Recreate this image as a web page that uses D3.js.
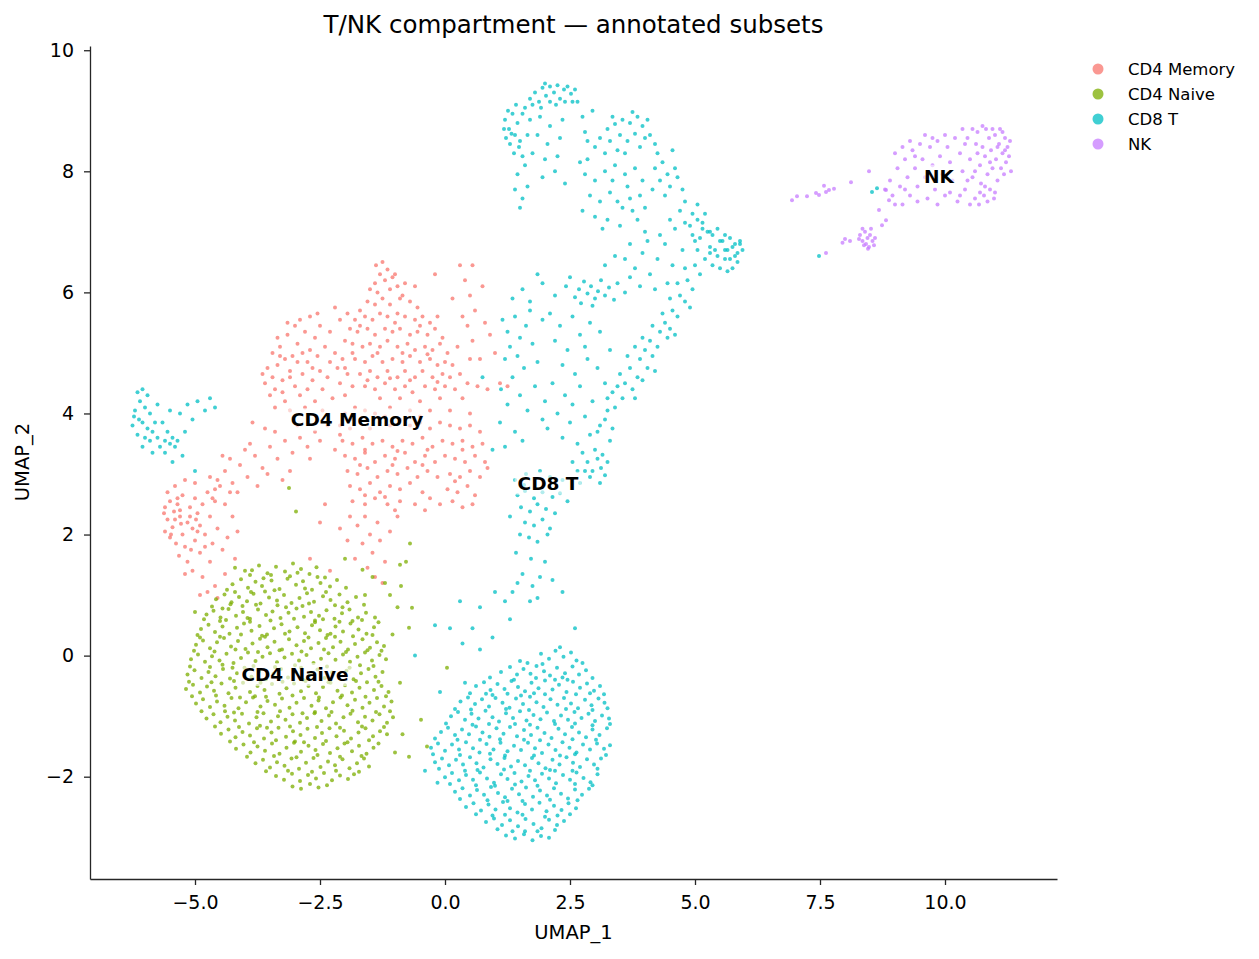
<html>
<head>
  <title>T/NK UMAP</title>
  <script src="https://cdn.jsdelivr.net/npm/d3@7"></script>
  <style>
    body { margin: 0; background: #fff; }
    text { font-family: "DejaVu Sans", sans-serif; }
  </style>
</head>
<body>
<script>
// categories and colours
const categories = ["CD4 Memory", "CD4 Naive", "CD8 T", "NK"];
const colors = ["#F8766D", "#7CAE00", "#00BFC4", "#C77CFF"];

// UMAP coordinates, one list per subset
const cd4MemoryPts = [
  // lower-left lump
  [-5.6,2.45],[-5.5,2.55],[-5.42,2.38],[-5.55,2.25],[-5.35,2.5],[-5.25,2.65],[-5.3,2.3],[-5.45,2.12],[-5.6,2.05],[-5.5,1.95],[-5.38,1.85],[-5.25,2.0],[-5.15,2.2],[-5.1,2.45],[-5.0,2.6],[-4.95,2.35],[-5.05,2.1],[-5.2,1.8],[-5.32,1.65],[-5.15,1.55],[-5.0,1.9],[-4.9,2.15],[-4.85,2.5],[-4.75,2.7],[-4.7,2.3],[-4.8,2.0],[-4.65,1.85],[-4.9,1.7],[-5.05,1.4],[-4.85,1.3],[-4.7,1.55],[-4.6,2.55],[-4.55,2.1],[-4.5,2.8],[-4.4,2.5],[-4.45,1.75],[-4.6,1.15],[-4.75,1.05],[-4.9,1.0],[-4.55,0.95],[-5.55,2.7],[-5.4,2.8],[-5.2,2.9],[-5.0,2.85],[-4.7,2.95],[-5.62,2.35],[-5.48,2.0],[-5.28,2.18],[-5.08,1.75],[-4.98,2.25],[-5.35,2.6],[-4.35,1.95],[-4.25,2.3],[-4.2,1.6],[-4.4,1.35],[-5.2,1.35],[-4.65,2.6],[-4.8,1.8],[-4.3,2.7],[-4.15,2.05],
  [-5.3,2.4],[-5.1,2.3],[-4.95,2.05],[-5.4,2.25],
  // arm
  [-4.55,2.9],[-4.4,3.05],[-4.25,2.85],[-4.1,3.15],[-3.95,2.95],[-4.3,3.25],[-3.8,3.3],[-3.65,3.1],[-3.5,3.45],[-3.35,3.25],[-3.2,3.55],[-3.05,3.35],[-2.9,3.6],[-2.75,3.45],[-2.6,3.7],[-3.75,2.8],[-3.55,3.0],[-3.9,3.5],[-4.15,2.7],[-3.4,3.7],[-2.95,3.8],[-2.5,3.55],[-2.35,3.8],[-3.1,3.05],[-4.0,3.4],[-3.6,3.75],[-2.7,3.25],[-3.25,2.9],[-2.2,3.4],[-4.45,3.3],[-2.1,3.65],[-3.85,3.85],[-4.6,2.75],
  // upper-left lobe
  [-3.45,4.6],[-3.35,4.8],[-3.4,4.4],[-3.25,4.55],[-3.2,4.9],[-3.3,5.1],[-3.15,5.3],[-3.0,5.45],[-2.9,5.55],[-2.8,5.35],[-2.95,5.15],[-3.05,4.95],[-3.1,4.7],[-3.0,4.45],[-2.85,4.65],[-2.75,4.85],[-2.7,5.05],[-2.6,5.25],[-2.55,4.95],[-2.65,4.55],[-2.5,4.7],[-2.45,4.4],[-2.35,4.6],[-2.3,4.85],[-2.4,5.1],[-2.2,5.0],[-2.15,4.75],[-2.1,4.5],[-2.0,4.3],[-1.95,4.65],[-2.05,4.9],[-2.25,4.25],[-2.6,4.2],[-2.9,4.3],[-3.2,4.2],[-3.5,4.3],[-3.4,4.1],[-3.1,4.05],[-2.8,4.1],[-2.45,4.05],[-3.55,4.75],[-3.6,4.5],[-3.35,5.25],[-3.15,5.5],[-2.7,5.6],[-2.5,5.45],[-2.3,5.35],[-2.1,5.55],[-3.45,5.0],[-2.75,4.4],[-3.25,4.35],[-2.95,4.85],[-2.55,5.65],[-2.0,5.2],[-3.65,4.65],[-1.85,5.0],[-1.9,5.4],[-2.2,5.75],
  [-2.65,4.75],[-3.1,4.6],[-2.85,5.0],[-3.3,4.95],
  // peak
  [-1.38,6.45],[-1.25,6.5],[-1.15,6.38],[-1.3,6.3],[-1.2,6.2],[-1.4,6.15],[-1.05,6.25],[-1.5,6.05],[-1.35,6.0],[-1.1,6.05],[-0.95,6.1],[-1.25,5.9],[-0.85,5.95],[-1.55,5.85],[-1.4,5.8],[-1.1,5.8],[-0.7,5.85],[-1.7,5.7],[-0.55,5.75],[-1.0,6.3],[-0.8,6.15],
  // main body upper
  [-1.8,5.55],[-1.6,5.6],[-1.45,5.55],[-1.3,5.65],[-1.15,5.6],[-0.95,5.65],[-0.8,5.6],[-0.6,5.55],[-0.45,5.6],[-0.3,5.5],[-1.75,5.35],[-1.55,5.4],[-1.4,5.3],[-1.2,5.4],[-1.05,5.35],[-0.9,5.4],[-0.7,5.3],[-0.55,5.35],[-0.35,5.3],[-0.2,5.4],[-0.05,5.25],[-1.85,5.15],[-1.65,5.1],[-1.5,5.15],[-1.3,5.1],[-1.15,5.2],[-0.95,5.1],[-0.75,5.15],[-0.6,5.05],[-0.4,5.1],[-0.25,5.05],[-0.1,5.15],[0.05,5.0],[-1.8,4.9],[-1.6,4.85],[-1.45,4.95],[-1.25,4.85],[-1.05,4.9],[-0.85,4.85],[-0.7,4.95],[-0.5,4.85],[-0.3,4.9],[-0.15,4.8],[0.0,4.85],[0.15,4.8],[-1.7,4.65],[-1.5,4.7],[-1.35,4.6],[-1.15,4.7],[-0.95,4.6],[-0.8,4.7],[-0.6,4.6],[-0.45,4.7],[-0.25,4.6],[-0.05,4.65],[0.1,4.6],[0.3,4.65],[-1.85,4.45],[-1.6,4.45],[-1.4,4.4],[-1.2,4.5],[-1.0,4.4],[-0.8,4.45],[-0.65,4.35],[-0.4,4.45],[-0.2,4.4],[0.0,4.45],[0.2,4.4],[0.45,4.5],[0.65,4.45],[-0.9,4.25],[-0.5,4.2],[-0.1,4.25],[0.35,4.25],[-1.3,4.25],[0.85,4.4],[-1.95,5.65],[-2.0,4.75],[-0.15,5.6],[0.25,5.1],[-0.9,5.9],
  [-1.7,5.45],[-1.0,5.5],[-0.5,5.45],[-1.35,5.0],[-0.85,5.0],[-0.35,4.98],[-1.55,4.55],[-1.1,4.58],[-0.7,4.55],[-0.15,4.52],
  // right sparse
  [0.4,6.2],[0.5,5.95],[0.75,6.1],[0.6,5.7],[0.45,5.45],[0.8,5.5],[0.55,5.2],[0.9,5.3],[0.35,5.6],[0.7,4.9],[1.0,5.0],[0.5,4.9],[0.15,5.9],[0.3,6.45],[1.1,4.5],[1.25,4.45],[-0.6,6.1],[-0.2,6.3],[0.55,6.45],
  // main body lower
  [-2.0,4.0],[-1.8,4.1],[-1.6,4.05],[-1.4,4.0],[-1.1,4.1],[-0.7,4.05],[-0.3,4.05],[0.1,4.05],[0.5,4.0],
  [-2.1,3.8],[-1.9,3.75],[-1.7,3.85],[-1.5,3.75],[-1.3,3.85],[-1.1,3.8],[-0.9,3.9],[-0.7,3.8],[-0.5,3.85],[-0.3,3.75],[-0.1,3.85],[0.1,3.8],[0.3,3.75],[0.5,3.8],[0.7,3.7],
  [-2.05,3.55],[-1.85,3.5],[-1.65,3.6],[-1.45,3.5],[-1.25,3.55],[-1.05,3.45],[-0.85,3.55],[-0.65,3.5],[-0.45,3.6],[-0.25,3.45],[-0.05,3.55],[0.15,3.5],[0.35,3.55],[0.55,3.45],[0.75,3.5],
  [-2.0,3.3],[-1.8,3.25],[-1.6,3.35],[-1.4,3.2],[-1.2,3.3],[-1.0,3.25],[-0.8,3.35],[-0.6,3.2],[-0.4,3.3],[-0.2,3.2],[0.0,3.3],[0.2,3.25],[0.4,3.2],[0.6,3.3],[0.8,3.2],
  [-1.95,3.05],[-1.75,3.0],[-1.55,3.1],[-1.35,2.95],[-1.15,3.05],[-0.95,3.0],[-0.75,3.1],[-0.55,2.95],[-0.35,3.05],[-0.15,2.95],[0.1,3.0],[0.3,2.95],[0.5,3.05],[0.7,2.95],[0.85,3.1],
  [-1.9,2.8],[-1.7,2.75],[-1.5,2.85],[-1.3,2.7],[-1.1,2.8],[-0.9,2.75],[-0.7,2.85],[-0.45,2.7],[0.05,2.75],[0.25,2.7],[0.45,2.8],[0.6,2.65],
  [-1.85,2.55],[-1.6,2.5],[-1.4,2.6],[-1.15,2.5],[-0.9,2.55],[-0.6,2.5],[-0.1,2.5],[0.15,2.55],[0.35,2.45],[0.55,2.5],[-0.3,2.6],[-1.0,2.4],[-0.4,2.4],
  [-1.9,3.9],[-1.2,3.95],[-0.5,3.95],[-1.6,3.4],[-0.95,3.38],[-0.35,3.4],[-1.7,3.15],[-1.05,3.15],[-0.45,3.15],[-1.6,2.65],[-1.2,2.62],[0.35,3.4],[0.2,2.88],
  // bottom tail
  [-1.9,2.3],[-1.75,2.15],[-1.6,2.3],[-1.5,2.0],[-1.35,2.2],[-1.65,1.85],[-1.45,1.7],[-1.3,1.9],[-1.2,1.55],[-1.55,1.45],[-1.8,1.6],[-1.1,2.05],[-1.4,1.3],[-1.95,1.9],[-2.1,2.1],[-2.3,1.4],[-1.25,1.2],[-0.95,2.3],[-2.5,2.2],[-2.7,1.6],[-2.4,2.5]
];

const cd4NaivePts = [
  [-3.86,1.41],[-3.72,1.49],[-3.55,1.36],[-3.38,1.47],[-3.2,1.39],[-3.04,1.52],[-2.88,1.43],[-2.71,1.35],[-2.57,1.46],[-3.63,1.28],
  [-3.48,1.33],[-2.95,1.37],[-2.4,1.29],[-4.0,1.4],
  [-4.25,1.18],[-4.08,1.26],[-3.94,1.12],[-3.79,1.22],[-3.66,1.15],[-3.47,1.24],[-3.31,1.1],[-3.15,1.27],[-2.98,1.17],[-2.84,1.23],[-2.66,1.09],[-2.49,1.2],[-2.3,1.14],[-2.16,1.25],[-3.9,1.33],[-3.1,1.31],[-2.55,1.3],
  [-4.36,1.09],[-3.88,1.05],[-3.41,1.08],[-2.8,1.11],[-2.38,1.05],[-1.98,1.12],
  [-4.58,0.93],[-4.41,1.01],[-4.27,0.88],[-4.12,0.97],[-3.96,0.9],[-3.83,1.02],[-3.69,0.86],[-3.52,0.96],[-3.36,0.91],[-3.22,1.0],[-3.07,0.87],[-2.91,0.95],[-2.76,1.03],[-2.62,0.89],[-2.44,0.98],[-2.29,0.92],[-2.11,1.01],[-1.95,0.88],[-1.78,0.97],[-3.6,1.06],[-2.85,0.82],[-4.2,1.05],[-2.05,0.8],
  [-4.66,0.81],[-4.29,0.85],[-3.78,0.84],[-3.18,0.8],[-2.72,0.86],[-2.2,0.83],[-1.62,0.84],[-4.45,0.78],
  [-4.77,0.68],[-4.63,0.74],[-4.49,0.63],[-4.33,0.77],[-4.18,0.66],[-4.04,0.72],[-3.9,0.61],[-3.74,0.76],[-3.58,0.67],[-3.45,0.73],[-3.29,0.62],[-3.13,0.71],[-2.97,0.78],[-2.82,0.64],[-2.68,0.72],[-2.52,0.66],[-2.37,0.75],[-2.21,0.61],[-2.06,0.7],[-1.91,0.76],[-1.74,0.63],[-1.58,0.71],[-4.05,0.82],[-3.35,0.83],[-2.6,0.58],[-1.85,0.57],
  [-4.82,0.6],[-4.38,0.59],[-3.95,0.62],[-3.49,0.58],[-3.02,0.61],[-2.44,0.6],[-2.11,0.56],[-1.66,0.59],[-1.4,0.63],
  [-4.88,0.44],[-4.73,0.51],[-4.6,0.39],[-4.45,0.48],[-4.31,0.36],[-4.16,0.46],[-4.02,0.53],[-3.87,0.41],[-3.71,0.49],[-3.56,0.35],[-3.42,0.45],[-3.27,0.52],[-3.11,0.4],[-2.95,0.47],[-2.8,0.37],[-2.66,0.5],[-2.5,0.42],[-2.35,0.34],[-2.19,0.48],[-2.04,0.4],[-1.89,0.53],[-1.73,0.43],[-1.57,0.36],[-1.42,0.47],[-1.33,0.55],[-3.9,0.56],[-2.6,0.55],[-4.5,0.57],
  [-4.95,0.34],[-4.5,0.31],[-4.08,0.35],[-3.66,0.33],[-3.2,0.36],[-2.73,0.3],[-2.29,0.36],[-1.84,0.32],[-1.45,0.34],
  [-4.98,0.18],[-4.84,0.25],[-4.7,0.12],[-4.56,0.22],[-4.42,0.29],[-4.28,0.15],[-4.14,0.24],[-3.99,0.11],[-3.85,0.2],[-3.7,0.28],[-3.55,0.14],[-3.41,0.23],[-3.26,0.1],[-3.12,0.27],[-2.97,0.17],[-2.82,0.24],[-2.68,0.12],[-2.53,0.21],[-2.38,0.29],[-2.24,0.14],[-2.09,0.23],[-1.94,0.1],[-1.8,0.19],[-1.65,0.27],[-1.5,0.13],[-1.36,0.22],[-1.22,0.16],[-3.6,0.31],[-2.2,0.31],[-4.9,0.3],
  [-5.02,0.08],[-4.61,0.07],[-4.19,0.1],[-3.74,0.06],[-3.31,0.09],[-2.87,0.07],[-2.42,0.1],[-1.98,0.06],[-1.55,0.09],[-1.27,0.08],
  [-5.08,-0.06],[-4.94,0.02],[-4.8,-0.1],[-4.66,-0.01],[-4.51,-0.08],[-4.37,0.03],[-4.23,-0.12],[-4.08,-0.04],[-3.94,0.05],[-3.79,-0.09],[-3.65,-0.02],[-3.5,0.04],[-3.36,-0.11],[-3.21,-0.03],[-3.06,0.03],[-2.92,-0.08],[-2.77,0.01],[-2.63,-0.12],[-2.48,-0.05],[-2.33,0.04],[-2.19,-0.07],[-2.04,0.02],[-1.9,-0.1],[-1.75,-0.02],[-1.6,0.05],[-1.46,-0.08],[-1.31,0.01],[-1.18,-0.06],[-4.45,-0.15],[-3.0,-0.16],[-1.7,-0.16],
  [-5.1,-0.18],[-4.7,-0.19],[-4.25,-0.2],[-3.83,-0.17],[-3.4,-0.19],[-2.88,-0.2],[-2.36,-0.18],[-1.91,-0.2],[-1.43,-0.17],
  [-5.15,-0.31],[-5.01,-0.24],[-4.87,-0.37],[-4.73,-0.27],[-4.59,-0.34],[-4.44,-0.22],[-4.3,-0.38],[-4.16,-0.29],[-4.01,-0.2],[-3.87,-0.35],[-3.72,-0.26],[-3.58,-0.39],[-3.43,-0.3],[-3.28,-0.22],[-3.14,-0.36],[-2.99,-0.27],[-2.84,-0.4],[-2.7,-0.31],[-2.55,-0.23],[-2.41,-0.37],[-2.26,-0.28],[-2.12,-0.34],[-1.97,-0.25],[-1.83,-0.39],[-1.68,-0.29],[-1.53,-0.22],[-1.39,-0.35],[-1.25,-0.27],
  [-5.12,-0.43],[-4.67,-0.44],[-4.22,-0.42],[-3.69,-0.45],[-3.25,-0.43],[-2.79,-0.42],[-2.33,-0.44],[-1.78,-0.42],[-1.33,-0.43],
  [-5.18,-0.55],[-5.04,-0.48],[-4.9,-0.61],[-4.76,-0.51],[-4.62,-0.58],[-4.47,-0.46],[-4.33,-0.62],[-4.19,-0.53],[-4.04,-0.45],[-3.9,-0.6],[-3.75,-0.5],[-3.61,-0.57],[-3.46,-0.47],[-3.31,-0.63],[-3.17,-0.54],[-3.02,-0.46],[-2.88,-0.59],[-2.73,-0.5],[-2.58,-0.62],[-2.44,-0.52],[-2.29,-0.45],[-2.15,-0.58],[-2.0,-0.49],[-1.86,-0.61],[-1.71,-0.53],[-1.56,-0.44],[-1.42,-0.57],[-1.27,-0.5],[-1.13,-0.6],[-3.8,-0.67],
  [-5.06,-0.67],[-4.58,-0.66],[-4.1,-0.69],[-3.58,-0.68],[-3.05,-0.66],[-2.52,-0.69],[-2.06,-0.66],[-1.59,-0.68],[-1.18,-0.67],
  [-4.98,-0.79],[-4.84,-0.72],[-4.7,-0.85],[-4.56,-0.76],[-4.41,-0.83],[-4.27,-0.7],[-4.13,-0.87],[-3.98,-0.77],[-3.84,-0.69],[-3.69,-0.84],[-3.55,-0.75],[-3.4,-0.81],[-3.26,-0.71],[-3.11,-0.86],[-2.97,-0.78],[-2.82,-0.7],[-2.67,-0.83],[-2.53,-0.74],[-2.38,-0.87],[-2.24,-0.77],[-2.09,-0.69],[-1.95,-0.82],[-1.8,-0.73],[-1.65,-0.86],[-1.51,-0.78],[-1.36,-0.7],[-1.22,-0.84],[-1.07,-0.76],[-4.4,-0.92],[-2.6,-0.93],
  [-4.87,-0.92],[-4.22,-0.94],[-3.75,-0.93],[-3.3,-0.92],[-2.85,-0.95],[-2.27,-0.93],[-1.85,-0.91],[-1.38,-0.93],[-1.1,-0.92],
  [-4.77,-1.04],[-4.63,-0.97],[-4.49,-1.1],[-4.35,-1.01],[-4.2,-1.07],[-4.06,-0.96],[-3.92,-1.12],[-3.77,-1.02],[-3.63,-0.95],[-3.48,-1.09],[-3.34,-1.0],[-3.19,-1.06],[-3.05,-0.97],[-2.9,-1.11],[-2.76,-1.03],[-2.61,-0.95],[-2.47,-1.08],[-2.32,-0.99],[-2.18,-1.12],[-2.03,-1.02],[-1.89,-0.96],[-1.74,-1.1],[-1.6,-1.01],[-1.45,-1.07],[-1.31,-0.97],[-1.16,-1.11],[-1.04,-1.02],[-3.7,-1.16],
  [-4.6,-1.17],[-4.12,-1.18],[-3.56,-1.19],[-3.1,-1.17],[-2.56,-1.18],[-2.1,-1.19],[-1.66,-1.17],[-1.22,-1.18],
  [-4.48,-1.29],[-4.33,-1.22],[-4.19,-1.35],[-4.05,-1.26],[-3.9,-1.32],[-3.76,-1.2],[-3.62,-1.37],[-3.47,-1.27],[-3.33,-1.19],[-3.18,-1.34],[-3.04,-1.25],[-2.89,-1.31],[-2.75,-1.21],[-2.6,-1.36],[-2.46,-1.28],[-2.31,-1.2],[-2.17,-1.33],[-2.02,-1.24],[-1.88,-1.37],[-1.73,-1.27],[-1.59,-1.2],[-1.44,-1.33],[-1.3,-1.25],[-1.16,-1.3],[-3.0,-1.42],
  [-4.3,-1.42],[-3.82,-1.43],[-3.38,-1.4],[-2.82,-1.43],[-2.38,-1.41],[-1.95,-1.43],[-1.52,-1.4],
  [-4.18,-1.54],[-4.03,-1.47],[-3.89,-1.6],[-3.75,-1.5],[-3.6,-1.57],[-3.46,-1.45],[-3.31,-1.62],[-3.17,-1.52],[-3.02,-1.44],[-2.88,-1.59],[-2.73,-1.49],[-2.59,-1.56],[-2.44,-1.46],[-2.3,-1.61],[-2.15,-1.53],[-2.01,-1.45],[-1.86,-1.58],[-1.72,-1.49],[-1.57,-1.62],[-1.43,-1.52],[-1.33,-1.45],
  [-3.96,-1.67],[-3.42,-1.66],[-2.97,-1.68],[-2.55,-1.64],[-2.1,-1.67],[-1.67,-1.66],
  [-3.79,-1.78],[-3.64,-1.72],[-3.5,-1.85],[-3.36,-1.76],[-3.21,-1.82],[-3.07,-1.7],[-2.92,-1.87],[-2.78,-1.77],[-2.63,-1.69],[-2.49,-1.84],[-2.34,-1.75],[-2.2,-1.81],[-2.05,-1.71],[-1.91,-1.86],[-1.76,-1.78],[-1.62,-1.7],[-1.52,-1.83],
  [-3.58,-1.91],[-3.14,-1.9],[-2.66,-1.92],[-2.18,-1.9],[-1.72,-1.92],
  [-3.38,-1.99],[-3.22,-2.05],[-3.06,-1.95],[-2.9,-2.07],[-2.74,-1.97],[-2.58,-2.03],[-2.42,-1.94],[-2.26,-2.06],[-2.1,-1.98],[-1.94,-2.04],[-1.82,-1.96],
  [-3.05,-2.16],[-2.88,-2.2],[-2.7,-2.12],[-2.53,-2.18],[-2.36,-2.14],
  [-1.05,0.35],[-0.95,0.8],[-0.88,1.15],[-0.78,1.55],[-0.7,1.85],[-0.9,1.5],[-1.1,1.0],[-0.66,0.79],[-0.72,0.46],[0.04,-0.2],[-0.36,-1.5],[-0.72,-1.67],[-0.48,-1.06],[-0.9,-0.45],[-0.85,-1.3],[-1.0,-1.6],[-2.0,1.6],[-1.65,1.42],[-1.45,1.3],[-1.2,1.2],[-3.12,2.77],[-2.98,2.38],[-5.0,0.72],[-4.2,1.45],[-1.6,1.0]
];

const cd8Pts = [
  // bottom blob
  [1.92,0.03],[2.08,-0.05],[2.21,0.08],[2.37,-0.02],[2.52,0.05],[2.63,-0.08],[2.3,0.14],
  [1.5,-0.09],[1.95,-0.14],[2.75,-0.12],
  [1.12,-0.27],[1.3,-0.19],[1.44,-0.31],[1.57,-0.22],[1.71,-0.3],[1.83,-0.17],[1.98,-0.26],[2.1,-0.33],[2.24,-0.2],[2.4,-0.29],[2.55,-0.18],[2.68,-0.31],[2.82,-0.24],[1.65,-0.12],[2.45,-0.4],
  [0.9,-0.36],[1.38,-0.4],[1.82,-0.37],[2.2,-0.4],[2.95,-0.37],
  [0.62,-0.5],[0.78,-0.44],[0.91,-0.57],[1.05,-0.47],[1.19,-0.55],[1.33,-0.42],[1.46,-0.52],[1.6,-0.59],[1.73,-0.45],[1.87,-0.54],[2.0,-0.41],[2.15,-0.56],[2.28,-0.48],[2.43,-0.6],[2.56,-0.43],[2.7,-0.53],[2.84,-0.46],[2.98,-0.58],[3.1,-0.5],[1.25,-0.63],[2.35,-0.36],
  [0.5,-0.62],[0.82,-0.63],[1.52,-0.66],[1.78,-0.62],[2.62,-0.64],[2.9,-0.62],[3.18,-0.64],
  [0.31,-0.76],[0.46,-0.69],[0.6,-0.8],[0.74,-0.72],[0.88,-0.84],[1.01,-0.7],[1.15,-0.78],[1.29,-0.86],[1.42,-0.71],[1.56,-0.8],[1.7,-0.68],[1.83,-0.77],[1.97,-0.85],[2.11,-0.72],[2.25,-0.81],[2.38,-0.7],[2.52,-0.79],[2.66,-0.87],[2.8,-0.73],[2.93,-0.82],[3.07,-0.71],[3.19,-0.78],[0.95,-0.65],[2.0,-0.64],
  [0.2,-0.88],[0.52,-0.89],[1.22,-0.88],[1.68,-0.9],[2.42,-0.88],[2.95,-0.9],[3.25,-0.87],
  [0.12,-1.0],[0.26,-0.93],[0.4,-1.06],[0.53,-0.96],[0.67,-1.04],[0.81,-0.91],[0.95,-1.02],[1.08,-1.09],[1.22,-0.95],[1.36,-1.03],[1.5,-0.92],[1.63,-1.07],[1.77,-0.98],[1.91,-1.05],[2.04,-0.94],[2.18,-1.08],[2.32,-0.99],[2.46,-1.06],[2.59,-0.93],[2.73,-1.03],[2.87,-0.96],[3.0,-1.08],[3.14,-0.99],[3.28,-1.04],[1.4,-1.13],[2.6,-1.12],
  [0.02,-1.12],[0.55,-1.14],[0.88,-1.13],[1.7,-1.14],[2.2,-1.13],[2.95,-1.15],[3.3,-1.13],
  [-0.08,-1.26],[0.06,-1.19],[0.2,-1.31],[0.34,-1.22],[0.48,-1.3],[0.62,-1.17],[0.75,-1.27],[0.89,-1.34],[1.03,-1.2],[1.17,-1.29],[1.3,-1.18],[1.44,-1.33],[1.58,-1.23],[1.72,-1.31],[1.85,-1.19],[1.99,-1.28],[2.13,-1.36],[2.27,-1.21],[2.4,-1.3],[2.54,-1.18],[2.68,-1.27],[2.82,-1.35],[2.95,-1.22],[3.09,-1.31],[3.24,-1.2],[0.7,-1.39],[1.9,-1.4],
  [-0.2,-1.37],[0.25,-1.39],[1.1,-1.38],[1.58,-1.39],[2.55,-1.38],[3.02,-1.39],
  [-0.28,-1.52],[-0.14,-1.45],[0.0,-1.57],[0.14,-1.47],[0.28,-1.55],[0.42,-1.43],[0.56,-1.53],[0.69,-1.6],[0.83,-1.46],[0.97,-1.55],[1.11,-1.44],[1.25,-1.58],[1.38,-1.49],[1.52,-1.56],[1.66,-1.44],[1.8,-1.53],[1.94,-1.61],[2.07,-1.47],[2.21,-1.56],[2.35,-1.43],[2.49,-1.52],[2.63,-1.6],[2.76,-1.47],[2.9,-1.55],[3.04,-1.45],[3.18,-1.54],[3.3,-1.48],[1.2,-1.65],[2.3,-1.65],
  [-0.24,-1.63],[0.3,-1.64],[0.9,-1.62],[1.78,-1.65],[2.6,-1.63],[3.22,-1.64],
  [-0.2,-1.76],[-0.06,-1.7],[0.08,-1.81],[0.22,-1.72],[0.36,-1.8],[0.5,-1.68],[0.63,-1.78],[0.77,-1.85],[0.91,-1.71],[1.05,-1.79],[1.19,-1.69],[1.32,-1.83],[1.46,-1.74],[1.6,-1.81],[1.74,-1.69],[1.87,-1.78],[2.01,-1.86],[2.15,-1.72],[2.29,-1.8],[2.43,-1.68],[2.56,-1.77],[2.7,-1.84],[2.84,-1.71],[2.98,-1.8],[3.12,-1.7],[0.4,-1.9],[1.7,-1.9],
  [-0.12,-1.87],[0.65,-1.89],[1.18,-1.88],[2.1,-1.89],[2.55,-1.9],[3.05,-1.87],
  [0.0,-2.01],[0.14,-1.94],[0.28,-2.06],[0.42,-1.97],[0.56,-2.05],[0.7,-1.93],[0.84,-2.03],[0.98,-2.1],[1.12,-1.96],[1.25,-2.04],[1.39,-1.94],[1.53,-2.08],[1.67,-1.99],[1.8,-2.06],[1.94,-1.95],[2.08,-2.03],[2.22,-2.11],[2.36,-1.97],[2.5,-2.05],[2.63,-1.93],[2.77,-2.02],[2.91,-2.09],[3.05,-1.96],[1.0,-2.15],[2.2,-1.9],
  [0.1,-2.12],[0.62,-2.14],[1.4,-2.13],[1.85,-2.15],[2.6,-2.12],[2.95,-2.14],
  [0.2,-2.25],[0.35,-2.19],[0.5,-2.31],[0.64,-2.22],[0.78,-2.3],[0.92,-2.17],[1.06,-2.27],[1.2,-2.34],[1.34,-2.2],[1.48,-2.29],[1.62,-2.18],[1.76,-2.33],[1.9,-2.23],[2.04,-2.31],[2.18,-2.19],[2.32,-2.28],[2.46,-2.36],[2.6,-2.21],[2.74,-2.3],[2.88,-2.2],[1.55,-2.4],
  [0.3,-2.37],[0.85,-2.39],[1.25,-2.4],[2.1,-2.38],[2.65,-2.39],
  [0.42,-2.5],[0.57,-2.44],[0.72,-2.56],[0.87,-2.46],[1.01,-2.54],[1.16,-2.42],[1.3,-2.52],[1.45,-2.59],[1.6,-2.45],[1.74,-2.54],[1.89,-2.43],[2.03,-2.57],[2.18,-2.48],[2.33,-2.55],[2.47,-2.44],[2.62,-2.52],[1.2,-2.63],[2.0,-2.66],
  [0.62,-2.62],[0.95,-2.64],[1.55,-2.63],[2.25,-2.64],[2.5,-2.62],
  [0.82,-2.75],[0.98,-2.69],[1.14,-2.8],[1.3,-2.72],[1.46,-2.82],[1.61,-2.7],[1.77,-2.78],[1.93,-2.85],[2.08,-2.71],[2.24,-2.8],[2.38,-2.73],[1.6,-2.9],
  [1.05,-2.87],[1.35,-2.9],[1.85,-2.9],[2.2,-2.88],
  [1.22,-2.97],[1.4,-3.02],[1.58,-2.95],[1.75,-3.05],[1.92,-2.98],[2.08,-3.01],
  // loose points between blob and stem
  [-0.2,0.5],[0.1,0.45],[0.35,0.2],[0.55,0.45],[0.7,0.8],[1.0,1.05],[1.2,0.9],[1.45,1.2],[1.7,0.9],[1.85,0.95],[2.6,0.45],[2.35,1.05],[0.4,-0.45],[-0.1,-0.6],[-0.4,-1.9],[-0.15,-2.1],[0.7,0.1],[1.3,0.6],[-0.6,0.0],[0.3,0.9],[0.95,0.3],
  // stem
  [1.45,2.65],[1.6,2.72],[1.78,2.6],[1.95,2.7],[2.15,2.62],[2.3,2.68],[1.52,2.45],[1.7,2.38],[1.85,2.5],[2.02,2.42],[2.2,2.35],[1.6,2.2],[1.78,2.15],[1.95,2.25],[2.1,2.1],[1.5,2.0],[1.68,1.95],[1.85,1.88],[2.05,2.0],[1.42,1.7],[1.72,1.6],[2.0,1.55],[1.55,1.35],[1.9,1.3],[1.35,1.05],[1.75,1.15],[2.15,1.25],[1.3,2.3],[2.35,2.9],[1.4,2.9],[1.62,3.0],[1.9,3.05],[2.1,2.95],[1.58,2.82],[2.45,2.55],
  [2.75,3.35],[2.85,3.2],[2.95,3.05],[3.05,3.25],[3.12,3.1],[3.2,2.98],[2.9,2.95],[3.0,3.4],[3.15,3.32],[2.8,3.05],[3.25,3.2],[2.65,3.05],[2.55,3.2],[3.1,2.85],[2.7,2.85],
  // middle band
  [1.35,5.9],[1.55,6.05],[1.7,5.85],[1.95,6.15],[2.2,5.95],[2.42,6.1],[2.6,5.92],[2.68,6.05],[2.78,6.18],[2.85,5.98],[2.92,6.1],[3.0,5.9],[3.06,6.02],[3.12,6.2],[3.2,5.95],[3.28,6.08],[3.38,5.88],[2.72,5.82],[2.95,5.78],[3.45,6.15],[2.5,6.25],[1.85,6.3],[3.6,6.0],[3.7,6.25],
  [1.15,5.55],[1.25,5.35],[1.4,5.6],[1.3,5.1],[1.5,5.25],[1.62,5.45],[1.2,4.9],[1.45,4.95],[1.75,5.15],[1.58,4.75],[1.35,4.6],[1.85,4.85],[1.95,5.55],[1.7,5.7],[1.12,4.4],[1.5,4.3],[1.8,4.45],[1.25,4.15],[2.0,4.2],[1.65,4.05],[1.1,3.85],[1.4,3.7],[1.95,3.9],[1.2,3.45],[1.55,3.55],
  [2.1,5.65],[2.3,5.45],[2.55,5.6],[2.2,5.2],[2.45,5.05],[2.7,5.3],[2.9,5.5],[3.1,5.35],[2.35,4.8],[2.6,4.65],[2.85,4.9],[3.05,4.75],[2.15,4.5],[2.4,4.3],[2.7,4.45],[2.95,4.2],[3.2,4.5],[2.25,4.0],[2.5,3.85],[2.8,3.95],[3.1,3.8],[2.35,3.6],[2.65,3.5],[2.9,3.65],[3.25,4.05],[2.05,3.75],[3.3,3.55],[2.55,4.15],[2.8,5.1],[3.3,5.05],
  [3.05,3.7],[3.2,3.9],[3.35,3.75],[3.4,4.1],[3.55,4.25],[3.35,4.35],[3.6,4.5],[3.75,4.4],[3.5,4.65],[3.7,4.75],[3.85,4.6],[3.9,4.9],[4.05,4.75],[3.65,4.95],[3.8,5.1],[4.0,5.05],[4.15,4.95],[3.95,5.25],[4.1,5.2],[4.25,5.1],[4.3,5.35],[4.15,5.45],[4.4,5.5],[4.5,5.4],[4.35,5.65],[4.55,5.7],[4.65,5.6],[4.5,5.9],[4.7,5.95],[4.8,5.85],[4.65,6.15],[4.85,6.2],[4.95,6.05],[4.8,6.4],[5.0,6.45],[5.1,6.3],[5.2,6.55],[5.05,6.7],[5.3,6.75],[5.45,6.6],[5.5,6.85],[5.65,6.7],[5.7,6.9],[5.8,6.8],[5.9,6.85],[5.85,6.65],[5.6,6.55],[5.35,6.45],[3.95,4.55],[4.2,4.7],[3.45,4.45],[3.8,4.25],[4.45,5.25],[4.6,5.3],[4.9,5.75],[3.25,4.25],
  [3.8,6.4],[3.95,6.65],[4.1,6.3],[4.25,6.55],[4.4,6.8],[4.55,6.45],[4.3,6.95],[4.6,7.05],[4.75,6.7],[4.95,6.95],[5.15,7.05],[3.7,6.8],[4.0,7.0],[3.6,6.55],[4.45,6.15],[4.2,6.05],[3.9,6.1],[5.05,7.2],[4.8,7.15],[4.5,7.2],[4.05,6.85],[5.3,7.0],[3.4,6.6],[3.2,6.45],
  // upper lump
  [3.1,8.55],[3.25,8.7],[3.4,8.78],[3.55,8.85],[3.7,8.8],[3.85,8.9],[3.95,8.75],[4.05,8.85],[3.3,8.5],[3.5,8.6],[3.65,8.5],[3.8,8.62],[4.0,8.55],[3.45,8.35],[3.2,8.3],[3.6,8.3],[3.9,8.4],[4.1,8.6],[4.2,8.45],[3.0,8.4],[3.35,8.9],[3.75,8.98],
  [4.25,8.3],[4.35,8.15],[4.2,8.05],[4.45,7.95],[4.3,7.85],[4.5,7.75],[4.6,8.05],[4.15,7.7],[4.4,7.6],[4.65,7.9],[4.55,8.35],[4.75,7.7],
  [2.8,7.95],[3.0,7.85],[3.2,8.0],[3.4,8.1],[3.6,7.95],[3.8,8.05],[2.9,7.6],[3.1,7.5],[3.3,7.65],[3.45,7.5],[3.55,7.4],[3.7,7.55],[3.75,7.35],[3.9,7.6],[3.0,7.25],[3.25,7.2],[3.5,7.1],[3.85,7.2],[2.75,7.35],[3.15,7.05],[4.0,7.4],[3.95,7.85],[3.35,7.85],[3.65,7.75],[2.85,8.2],
  [4.8,7.5],[4.95,7.3],[5.05,7.45],[5.15,7.15],[5.25,7.0],[5.35,6.95],[5.45,7.05],[5.55,6.85],[5.6,6.7],[5.75,6.75],[5.9,6.8],[5.95,6.7],[5.7,6.55],[5.85,6.5],[5.5,6.4],[5.65,6.35],[5.1,6.9],[4.9,7.1],[5.3,6.65],[5.4,6.7],[5.8,6.6],[5.6,6.95],[5.75,6.4],[5.2,7.3],[4.7,7.35],[5.0,6.85],
  // top-left arc
  [1.2,8.85],[1.28,8.7],[1.35,8.95],[1.22,8.55],[1.4,8.6],[1.3,8.45],[1.45,8.8],[1.38,8.3],[1.5,8.5],[1.55,8.95],[1.26,9.0],[1.42,9.1],[1.6,9.05],[1.48,8.4],[1.18,8.7],[1.33,8.62],[1.55,8.25],[1.65,8.6],
  [1.7,9.2],[1.8,9.3],[1.88,9.15],[1.95,9.38],[2.02,9.25],[2.1,9.4],[2.18,9.3],[2.25,9.42],[2.3,9.2],[2.38,9.35],[2.45,9.4],[2.52,9.28],[2.6,9.35],[2.1,9.15],[1.92,9.05],[2.22,9.1],[2.4,9.15],[2.0,9.45],[1.75,9.1],[2.55,9.15],
  [1.7,8.85],[1.9,8.9],[2.1,8.75],[2.35,8.85],[1.85,8.6],[2.05,8.45],[2.3,8.55],[1.6,8.1],[1.75,8.3],[2.0,8.2],[2.25,8.25],[1.45,7.95],[1.65,7.75],[1.95,7.9],[2.2,8.0],[1.4,7.7],[1.55,7.55],[2.4,7.8],[2.7,8.15],[2.85,8.5],[2.75,8.9],[2.95,9.0],[2.65,9.15],[2.8,8.65],[1.5,7.4],
  // small cluster on the far left
  [-6.15,4.35],[-6.05,4.4],[-5.95,4.3],[-6.1,4.2],[-6.2,4.05],[-6.0,4.1],[-5.9,4.0],[-6.12,3.9],[-6.25,3.8],[-6.05,3.85],[-5.95,3.75],[-6.15,3.65],[-5.85,3.7],[-5.8,3.85],[-6.0,3.6],[-5.75,3.6],[-5.6,3.55],[-5.5,3.5],[-5.45,3.6],[-5.35,3.55],[-5.4,3.45],[-5.55,3.7],[-5.7,3.45],[-5.65,3.85],[-5.5,4.05],[-5.3,4.0],[-5.15,4.15],[-4.95,4.2],[-4.8,4.05],[-4.7,4.25],[-5.05,3.9],[-5.2,3.7],[-5.85,3.35],[-6.05,3.45],[-5.45,3.2],[-5.25,3.3],[-5.0,3.05],[-5.75,4.15],[-6.22,3.95],[-5.9,3.55],[-5.6,3.35],[-4.6,4.1],
  // strays
  [8.54,7.66],[8.64,7.72],[7.48,6.6],[0.75,4.6],[0.95,3.4]
];

const nkPts = [
  [8.9,7.85],[8.95,7.6],[9.05,8.05],[9.1,7.75],[9.15,7.45],[9.2,8.2],[9.25,7.9],[9.3,7.6],[9.35,8.35],[9.4,8.05],[9.45,7.75],[9.5,8.45],[9.55,8.2],[9.6,7.9],[9.65,7.55],[9.7,8.4],[9.75,8.1],[9.8,7.7],[9.85,8.5],[9.9,8.25],[9.95,7.95],[10.0,7.6],[10.05,8.4],[10.1,8.15],[10.15,7.85],[10.2,8.55],[10.25,7.5],[9.0,8.3],[9.3,8.5],[9.15,8.4],[9.6,8.6],[9.45,7.5],[9.85,7.45],[10.1,7.65],[9.2,7.7],[8.8,7.7],[9.0,7.45],[9.4,8.25],[9.75,8.55],[10.0,8.6],
  [10.3,8.3],[10.35,8.0],[10.4,7.7],[10.45,8.55],[10.5,8.2],[10.55,7.9],[10.6,7.55],[10.62,8.45],[10.65,8.65],[10.7,8.1],[10.72,7.8],[10.75,8.4],[10.78,7.6],[10.8,8.25],[10.82,8.7],[10.85,7.95],[10.88,8.55],[10.9,7.7],[10.92,8.35],[10.95,8.05],[10.98,7.55],[11.0,8.6],[11.02,8.2],[11.05,7.85],[11.08,8.45],[11.1,8.7],[11.12,8.05],[11.15,8.3],[11.18,7.95],[11.2,8.55],[11.22,8.15],[11.25,8.4],[11.28,8.25],[11.3,8.5],[11.32,8.0],[10.35,8.7],[10.5,7.45],[10.6,8.0],[10.68,7.45],[10.85,7.5],[11.0,7.65],[10.4,8.45],[10.55,8.7],[10.75,8.75],[10.95,8.7],[11.15,8.65],[10.45,7.85],[10.65,8.3],[10.8,7.75],[10.9,8.15],[11.05,8.4],[11.2,8.35],[10.3,7.6],[10.7,7.65],
  [6.94,7.52],[7.04,7.59],[7.24,7.59],[7.42,7.64],[7.48,7.61],[7.62,7.66],[7.58,7.76],[7.68,7.69],[7.78,7.71],[8.12,7.82],[8.48,8.0],[8.68,7.36],[8.82,7.69],[8.88,7.52],[8.82,7.19],[8.74,7.11],
  [8.3,6.95],[8.35,6.85],[8.4,7.0],[8.45,6.9],[8.42,6.8],[8.5,6.95],[8.55,6.85],[8.48,6.75],[8.38,6.78],[8.6,6.9],[8.52,7.05],[8.35,7.05],[8.58,6.78],[8.46,6.72],[8.28,6.88],[8.1,6.85],[7.95,6.82],[8.0,6.88],[7.62,6.65]
];

const seriesPts = [cd4MemoryPts, cd4NaivePts, cd8Pts, nkPts];

// cluster label positions (data units)
const labelX = [-1.76, -3.0, 2.06, 9.88];
const labelY = [3.9, -0.31, 2.85, 7.92];

const xTicks = [-5, -2.5, 0, 2.5, 5, 7.5, 10];
const yTicks = [-2, 0, 2, 4, 6, 8, 10];

// size
const w = 1259;
const h = 959;

const x = d3.scaleLinear().domain([-7.1, 12.24]).range([90, 1057]);
const y = d3.scaleLinear().domain([-3.69, 10.07]).range([879, 46]);

const svg = d3.select("body").append("svg")
  .attr("width", w)
  .attr("height", h);

// points
seriesPts.forEach(function(pts, i) {
  svg.append("g")
    .selectAll("circle")
    .data(pts)
    .enter()
    .append("circle")
    .attr("cx", d => x(d[0]))
    .attr("cy", d => y(d[1]))
    .attr("r", 2.0)
    .attr("fill", colors[i])
    .attr("fill-opacity", 0.75);
});

// axes
const xAxis = svg.append("g")
  .attr("transform", "translate(0,879)")
  .call(d3.axisBottom(x).tickValues(xTicks).tickFormat(d3.format(".1f")).tickSize(6).tickPadding(11).tickSizeOuter(0));
const yAxis = svg.append("g")
  .attr("transform", "translate(90,0)")
  .call(d3.axisLeft(y).tickValues(yTicks).tickFormat(d3.format("d")).tickSize(6).tickPadding(10).tickSizeOuter(0));

[xAxis, yAxis].forEach(function(ax) {
  ax.select(".domain").attr("stroke", "#262626").attr("stroke-width", 1.3);
  ax.selectAll(".tick line").attr("stroke", "#262626").attr("stroke-width", 1.3);
  ax.selectAll(".tick text")
    .attr("font-family", "DejaVu Sans")
    .attr("font-size", "19px")
    .attr("fill", "#000");
});

// cluster labels with a faint white box
categories.forEach(function(c, i) {
  const g = svg.append("g");
  const t = g.append("text")
    .attr("x", x(labelX[i]))
    .attr("y", y(labelY[i]))
    .attr("dy", "0.36em")
    .attr("text-anchor", "middle")
    .attr("font-weight", "bold")
    .attr("font-size", "18.5px")
    .text(c);
  const b = t.node().getBBox();
  g.insert("rect", "text")
    .attr("x", b.x - 3)
    .attr("y", b.y - 1)
    .attr("width", b.width + 6)
    .attr("height", b.height + 2)
    .attr("rx", 3)
    .attr("fill", "#fff")
    .attr("fill-opacity", 0.6);
});

// title and axis labels
svg.append("text")
  .attr("x", 573.5)
  .attr("y", 33)
  .attr("text-anchor", "middle")
  .attr("font-size", "24.5px")
  .text("T/NK compartment — annotated subsets");

svg.append("text")
  .attr("x", 573.5)
  .attr("y", 939)
  .attr("text-anchor", "middle")
  .attr("font-size", "19.5px")
  .text("UMAP_1");

svg.append("text")
  .attr("transform", "translate(29,462) rotate(-90)")
  .attr("text-anchor", "middle")
  .attr("font-size", "19.5px")
  .text("UMAP_2");

// legend
const legend = svg.append("g");
categories.forEach(function(c, i) {
  legend.append("circle")
    .attr("cx", 1098)
    .attr("cy", 69 + i * 25)
    .attr("r", 5.5)
    .attr("fill", colors[i])
    .attr("fill-opacity", 0.75);
  legend.append("text")
    .attr("x", 1128)
    .attr("y", 69 + i * 25)
    .attr("dy", "0.35em")
    .attr("font-size", "16.5px")
    .text(c);
});
</script>
</body>
</html>
